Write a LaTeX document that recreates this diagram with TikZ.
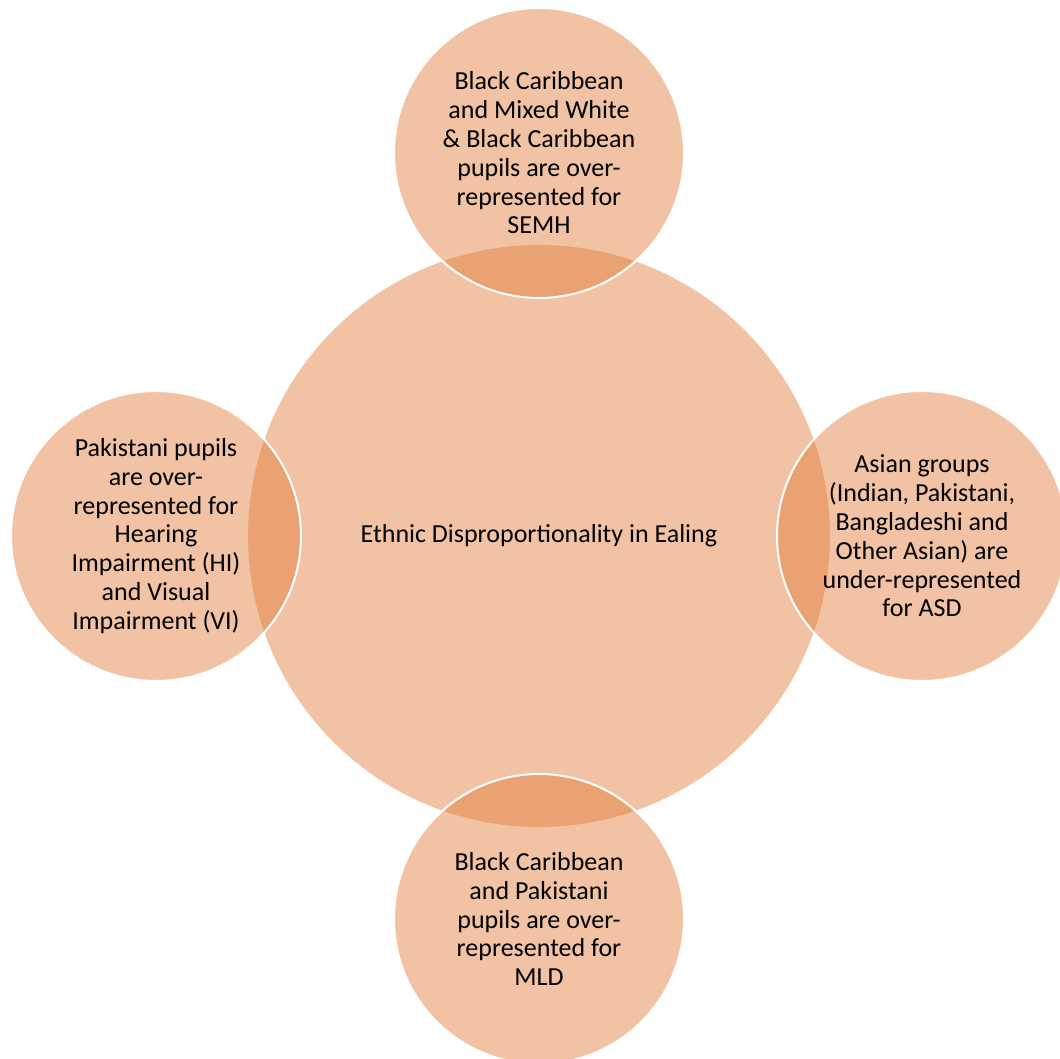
\documentclass[tikz,border=0pt]{standalone}
\usepackage{fontspec}
\setmainfont{Carlito}
\definecolor{orangeOffice}{RGB}{226,128,62}

\begin{document}
\begin{tikzpicture}[x=0.5pt, y=0.5pt, font=\fontsize{13}{14.4}\selectfont]

\tikzstyle{bulle}=[circle, fill=orangeOffice, fill opacity=0.48, text opacity=1, align=center, inner sep=0pt]
\tikzstyle{grande}=[bulle, minimum size=291pt]
\tikzstyle{petite}=[bulle, minimum size=145pt, draw=white, line width=1pt]
%\tikzstyle{lien}=[draw=white]

\useasboundingbox (-539,-523) rectangle (521,536);

\node[grande] (centre) at (0,0) {Ethnic Disproportionality in Ealing};

\node[petite] (semh) at (0,383) {Black Caribbean\\ and Mixed White\\ \& Black Caribbean\\ pupils are over-\\ represented for\\ SEMH};
\node[petite] (asd) at (383,0) {Asian groups\\ (Indian, Pakistani,\\ Bangladeshi and\\ Other Asian) are\\ under-represented\\ for ASD};
\node[petite] (mld) at (0,-383) {Black Caribbean\\ and Pakistani\\ pupils are over-\\ represented for\\ MLD};
\node[petite] (hivi) at (-383,0) {Pakistani pupils\\ are over-\\ represented for\\ Hearing\\ Impairment (HI)\\ and Visual\\ Impairment (VI)};

\end{tikzpicture}
\end{document}
